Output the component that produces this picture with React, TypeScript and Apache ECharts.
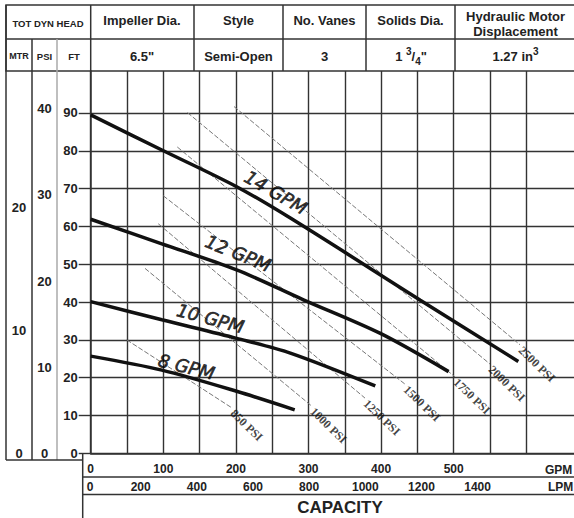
import React, { useEffect, useRef } from "react";
import * as echarts from "echarts";

// ---------- data ----------
const gpmTicks = [0, 100, 200, 300, 400, 500, 600];
const lpmTicks = [0, 200, 400, 600, 800, 1000, 1200, 1400];
const ftTicks = [0, 10, 20, 30, 40, 50, 60, 70, 80, 90];
const psiTicks = [0, 10, 20, 30, 40];
const mtrTicks = [0, 10, 20];

const curveNames = ["14 GPM", "12 GPM", "10 GPM", "8 GPM"];
const curve14 = [[0, 89.5], [98, 80.2], [201, 70.5], [275, 62.2], [454, 40.5], [589, 24.3]];
const curve12 = [[0, 61.9], [98, 55.4], [201, 48.5], [293, 40.6], [399, 31.7], [493, 21.6]];
const curve10 = [[0, 40.1], [98, 35.3], [201, 30.4], [275, 26.5], [392, 17.8]];
const curve8 = [[0, 25.7], [98, 22.0], [201, 16.4], [281, 11.5]];
const curveLabelAt = [[255, 69.0], [203, 52.9], [165, 35.7], [132, 22.9]];
const curveLabelAngle = [-30, -22, -15, -14];

const psiNames = ["850 PSI", "1000 PSI", "1250 PSI", "1500 PSI", "1750 PSI", "2000 PSI", "2500 PSI"];
const psi850 = [[49.6, 30.0], [194.6, 12.0]];
const psi1000 = [[74.8, 48.9], [304.4, 12.5]];
const psi1250 = [[93.1, 60.7], [377.8, 14.6]];
const psi1500 = [[100.0, 68.1], [432.9, 18.3]];
const psi1750 = [[119.3, 81.0], [501.8, 20.2]];
const psi2000 = [[133.3, 90.1], [550.0, 23.6]];
const psi2500 = [[197.4, 91.7], [591.3, 28.7]];

// ---------- layout ----------
const X0 = 90.7;
const YT = 71;
const YB = 453.3;
const XR = 574;
const GPM_MAX = 665.7;
const FT_MAX = 101.1;
const PSI_MAX = 44.4;
const MTR_MAX = 31.1;
const LPM_LEFT = 84.5;
const LPM_PX = 0.2808;

const DARK = "#333";
const FONT = '"Liberation Sans", Arial, sans-serif';

const curves = [curve14, curve12, curve10, curve8];
const psiLines = [psi850, psi1000, psi1250, psi1500, psi1750, psi2000, psi2500];

function hline(x1: number, x2: number, y: number, color = DARK, w = 1.5) {
  return { type: "line", silent: true, shape: { x1, y1: y, x2, y2: y }, style: { stroke: color, lineWidth: w } };
}
function vline(x: number, y1: number, y2: number, color = DARK, w = 1.5) {
  return { type: "line", silent: true, shape: { x1: x, y1, x2: x, y2 }, style: { stroke: color, lineWidth: w } };
}
function txt(text: string, x: number, y: number, size: number, align = "center", extra: any = {}) {
  return {
    type: "text",
    silent: true,
    x,
    y,
    style: {
      text,
      fill: "#222",
      font: `bold ${size}px ${FONT}`,
      align,
      verticalAlign: "middle",
      textAlign: align,
      textVerticalAlign: "middle",
      ...extra,
    },
  };
}

const supRich = {
  n: { fontSize: 13, fontWeight: "bold", fontFamily: FONT, lineHeight: 20, verticalAlign: "middle", fill: "#222", color: "#222" },
  sup: { fontSize: 10, fontWeight: "bold", fontFamily: FONT, lineHeight: 10, verticalAlign: "top", fill: "#222", color: "#222" },
  sub: { fontSize: 10, fontWeight: "bold", fontFamily: FONT, lineHeight: 10, verticalAlign: "bottom", fill: "#222", color: "#222" },
};

export default function App() {
  const ref = useRef<HTMLDivElement>(null);

  useEffect(() => {
    const chart = echarts.init(ref.current!, null, { renderer: "svg" });

    const xSplitColors = gpmTicks
      .flatMap((t) => (t < 600 ? [DARK, DARK] : [DARK]))
      .concat(["rgba(0,0,0,0)", "rgba(0,0,0,0)"]);
    const ySplitColors = ftTicks.map(() => DARK).concat(["rgba(0,0,0,0)", DARK]);

    const series: any[] = [];
    curves.forEach((c, i) => {
      series.push({
        type: "line",
        name: curveNames[i],
        data: c,
        smooth: 0.3,
        showSymbol: false,
        lineStyle: { color: "#111", width: 3.5 },
        z: 5,
      });
    });
    psiLines.forEach((p, i) => {
      series.push({
        type: "line",
        name: psiNames[i],
        data: p,
        showSymbol: false,
        lineStyle: { color: "#777", width: 1, type: [5, 2] },
        z: 3,
      });
    });
    series.push({
      type: "scatter",
      symbolSize: 1,
      itemStyle: { color: "rgba(0,0,0,0)" },
      z: 6,
      data: psiLines.map((p, i) => ({ value: p[1], name: psiNames[i] })),
      label: {
        show: true,
        formatter: "{b}",
        position: [1, 4],
        align: "left",
        verticalAlign: "middle",
        rotate: -44,
        fontFamily: '"Liberation Serif", "Times New Roman", serif',
        fontWeight: "bold",
        fontSize: 12,
        color: "#111",
      },
    });
    series.push({
      type: "scatter",
      symbolSize: 1,
      itemStyle: { color: "rgba(0,0,0,0)" },
      z: 6,
      data: curveLabelAt.map((p, i) => ({
        value: p,
        name: curveNames[i],
        label: { rotate: curveLabelAngle[i] },
      })),
      label: {
        show: true,
        formatter: "{b}",
        position: "inside",
        align: "center",
        verticalAlign: "middle",
        fontFamily: '"DejaVu Sans", Verdana, sans-serif',
        fontStyle: "oblique",
        fontSize: 18,
        color: "#000",
        textBorderColor: "#000",
        textBorderWidth: 0.6,
      },
    });

    const graphic: any[] = [
      // header box
      { type: "rect", silent: true, shape: { x: 6, y: 5, width: 600, height: YT - 5 }, style: { fill: "none", stroke: DARK, lineWidth: 1.5 } },
      hline(6, 600, 39),
      vline(X0, 5, YT),
      vline(194, 5, YT),
      vline(283, 5, YT),
      vline(366, 5, YT),
      vline(455, 5, YT),
      // left columns
      vline(6, 5, 460),
      vline(32, 39, 460),
      vline(57, 39, 460, "#aaa", 1.5),
      hline(6, 82.7, 460),
      vline(82.7, YB, 520),
      hline(82.7, 600, 477),
      hline(82.7, 600, 494.5),
      // header texts
      txt("TOT DYN HEAD", 48, 23, 9.5),
      txt("Impeller Dia.", 142, 20, 13),
      txt("Style", 238.5, 20, 13),
      txt("No. Vanes", 324.5, 20, 13),
      txt("Solids Dia.", 410.5, 20, 13),
      txt("Hydraulic Motor", 515.5, 16.7, 13),
      txt("Displacement", 515.5, 31, 13),
      txt("MTR", 19, 56, 9),
      txt("PSI", 44.5, 56, 9.5),
      txt("FT", 74, 56, 9.5),
      txt('6.5"', 142, 56, 13),
      txt("Semi-Open", 238.5, 56, 13),
      txt("3", 324.5, 56, 13),
      txt('{n|1 }{sup|3}{n|/}{sub|4}{n|"}', 411, 56, 13, "center", { rich: supRich }),
      txt("{n|1.27 in}{sup|3}", 515.5, 56, 13, "center", { rich: supRich }),
      // axis names
      txt("GPM", 545, 469.5, 12, "left"),
      txt("LPM", 548, 487, 12, "left"),
      txt("CAPACITY", 340, 507, 17),
    ];

    const option: any = {
      animation: false,
      backgroundColor: "#fff",
      grid: [
        { left: X0, top: YT, width: XR - X0, height: YB - YT, containLabel: false },
        { left: LPM_LEFT, top: YT, width: 1400 * LPM_PX, height: 477 - YT, containLabel: false },
      ],
      xAxis: [
        {
          type: "value",
          gridIndex: 0,
          min: 0,
          max: GPM_MAX,
          interval: 50,
          axisLine: { show: true, onZero: false, lineStyle: { color: DARK, width: 1.5 } },
          axisTick: { show: false },
          axisLabel: {
            show: true,
            margin: 10,
            customValues: gpmTicks,
            formatter: (v: number) => (gpmTicks.includes(v) ? String(v) : ""),
            color: "#222",
            fontWeight: "bold",
            fontSize: 12,
            fontFamily: FONT,
            showMaxLabel: false,
          },
          splitLine: { show: true, lineStyle: { color: xSplitColors, width: 1.4 } },
        },
        {
          type: "value",
          gridIndex: 1,
          min: 0,
          max: 1400,
          interval: 200,
          axisLine: { show: false },
          axisTick: { show: false },
          splitLine: { show: false },
          axisLabel: {
            show: true,
            margin: 4.3,
            customValues: lpmTicks,
            formatter: (v: number) => (v === 0 ? "{z|0}" : String(v)),
            rich: { z: { padding: [0, 0, 0, 11], fontWeight: "bold", fontSize: 12, fontFamily: FONT, color: "#222" } },
            color: "#222",
            fontWeight: "bold",
            fontSize: 12,
            fontFamily: FONT,
          },
        },
      ],
      yAxis: [
        {
          type: "value",
          gridIndex: 0,
          min: 0,
          max: FT_MAX,
          interval: 10,
          axisLine: { show: true, onZero: false, lineStyle: { color: DARK, width: 1.5 } },
          axisTick: { show: true, length: 12, customValues: ftTicks, lineStyle: { color: DARK, width: 1.4 } },
          axisLabel: {
            show: true,
            margin: 13,
            customValues: ftTicks,
            formatter: (v: number) => (ftTicks.includes(v) ? String(v) : ""),
            color: "#222",
            fontWeight: "bold",
            fontSize: 13,
            fontFamily: FONT,
          },
          splitLine: { show: true, lineStyle: { color: ySplitColors, width: 1.4 } },
        },
        {
          type: "value",
          gridIndex: 0,
          position: "left",
          min: 0,
          max: PSI_MAX,
          interval: 10,
          axisLine: { show: false },
          axisTick: { show: false },
          splitLine: { show: false },
          axisLabel: {
            show: true,
            align: "center",
            margin: X0 - 44.5,
            customValues: psiTicks,
            formatter: (v: number) => (psiTicks.includes(v) ? String(v) : ""),
            color: "#222",
            fontWeight: "bold",
            fontSize: 13,
            fontFamily: FONT,
          },
        },
        {
          type: "value",
          gridIndex: 0,
          position: "left",
          min: 0,
          max: MTR_MAX,
          interval: 10,
          axisLine: { show: false },
          axisTick: { show: false },
          splitLine: { show: false },
          axisLabel: {
            show: true,
            align: "center",
            margin: X0 - 19,
            customValues: mtrTicks,
            formatter: (v: number) => (mtrTicks.includes(v) ? String(v) : ""),
            color: "#222",
            fontWeight: "bold",
            fontSize: 13,
            fontFamily: FONT,
          },
        },
        { type: "value", gridIndex: 1, show: false, min: 0, max: 1 },
      ],
      series,
      graphic,
    };
    chart.setOption(option);
    return () => chart.dispose();
  }, []);

  return (
    <div
      ref={ref}
      style={{ position: "absolute", left: 0, top: 0, width: 574, height: 518, background: "#fff" }}
    />
  );
}
